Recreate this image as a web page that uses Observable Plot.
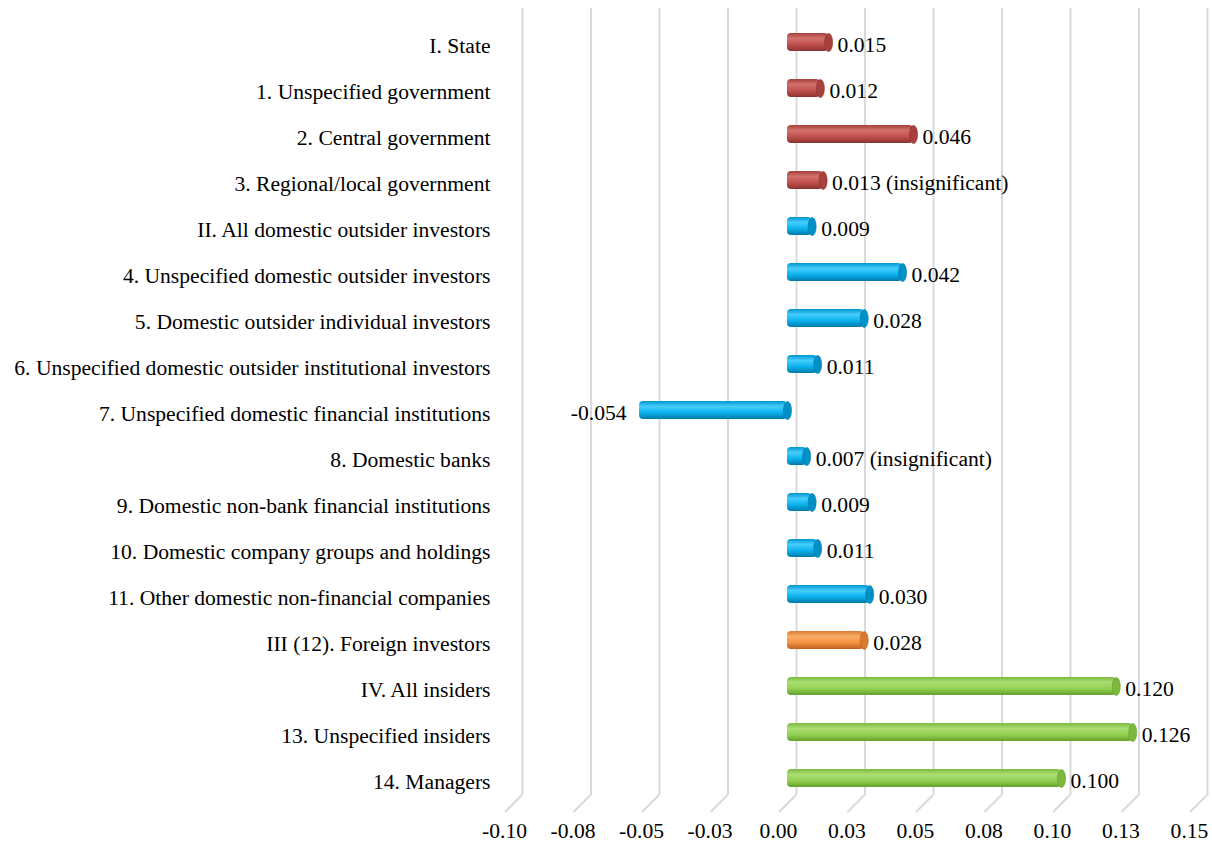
<!DOCTYPE html>
<html><head><meta charset="utf-8">
<script src="https://cdn.jsdelivr.net/npm/d3@7"></script>
<script src="https://cdn.jsdelivr.net/npm/@observablehq/plot@0.6"></script>
<style>body{margin:0;background:#fff}</style>
</head><body><div id="chart"></div>
<script>
const categories = [
  "I. State",
  "1. Unspecified government",
  "2. Central government",
  "3. Regional/local government",
  "II. All domestic outsider investors",
  "4. Unspecified domestic outsider investors",
  "5. Domestic outsider individual investors",
  "6. Unspecified domestic outsider institutional investors",
  "7. Unspecified domestic financial institutions",
  "8. Domestic banks",
  "9. Domestic non-bank financial institutions",
  "10. Domestic company groups and holdings",
  "11. Other domestic non-financial companies",
  "III (12). Foreign investors",
  "IV. All insiders",
  "13. Unspecified insiders",
  "14. Managers"
];
const values = [0.015, 0.012, 0.046, 0.013, 0.009, 0.042, 0.028, 0.011, -0.054, 0.007, 0.009, 0.011, 0.030, 0.028, 0.120, 0.126, 0.100];
const groups = ["state","state","state","state","domestic","domestic","domestic","domestic","domestic","domestic","domestic","domestic","domestic","foreign","insider","insider","insider"];
const notes = ["","",""," (insignificant)","","","","","",""," (insignificant)","","","","","",""];
notes[9] = " (insignificant)"; notes[10] = "";
const tickValues = [-0.1, -0.075, -0.05, -0.025, 0, 0.025, 0.05, 0.075, 0.1, 0.125, 0.15];
const tickLabels = ["-0.10","-0.08","-0.05","-0.03","0.00","0.03","0.05","0.08","0.10","0.13","0.15"];
const palette = {
  state:    {edge:"#a3403d", light:"#d2706b", base:"#c0504d", dark:"#8a3230", cap:"#a9403d"},
  domestic: {edge:"#0096cf", light:"#45cdfb", base:"#0ab2ef", dark:"#0079a8", cap:"#0090c8"},
  foreign:  {edge:"#d97a2e", light:"#faac69", base:"#f5913f", dark:"#bb6221", cap:"#d87a2c"},
  insider:  {edge:"#7cba3e", light:"#abdd74", base:"#92d050", dark:"#64a02c", cap:"#7bb83d"}
};

const data = categories.map((c, i) => ({
  category: c, value: values[i], group: groups[i],
  label: values[i].toFixed(3) + notes[i]
}));
const tickLabelMap = new Map(tickValues.map((t, i) => [t, tickLabels[i]]));

const backDx = 9, frontDx = -8, floorDepth = 17;
const font = "'Liberation Serif', 'Times New Roman', serif";
const fs = 21.6;

function defsMark() {
  const defs = d3.create("svg:defs");
  for (const [g, c] of Object.entries(palette)) {
    const lg = defs.append("linearGradient").attr("id", "g-" + g)
      .attr("x1", 0).attr("y1", 0).attr("x2", 0).attr("y2", 1);
    lg.append("stop").attr("offset", "0%").attr("stop-color", c.edge);
    lg.append("stop").attr("offset", "30%").attr("stop-color", c.light);
    lg.append("stop").attr("offset", "65%").attr("stop-color", c.base);
    lg.append("stop").attr("offset", "100%").attr("stop-color", c.dark);
  }
  return defs.node();
}

function floorMark(index, scales, vals, dimensions) {
  const g = d3.create("svg:g");
  const yb = dimensions.height - dimensions.marginBottom;
  for (const t of tickValues) {
    const x = scales.x(t);
    g.append("line")
      .attr("x1", x + backDx).attr("y1", yb - floorDepth)
      .attr("x2", x + frontDx).attr("y2", yb)
      .attr("stroke", "#d9d9d9").attr("stroke-width", 2);
  }
  return g.node();
}

const ellipseSymbol = {
  draw(ctx) {
    const rx = 4, ry = 9, k = 0.5523;
    ctx.moveTo(rx, 0);
    ctx.bezierCurveTo(rx, ry * k, rx * k, ry, 0, ry);
    ctx.bezierCurveTo(-rx * k, ry, -rx, ry * k, -rx, 0);
    ctx.bezierCurveTo(-rx, -ry * k, -rx * k, -ry, 0, -ry);
    ctx.bezierCurveTo(rx * k, -ry, rx, -ry * k, rx, 0);
    ctx.closePath();
  }
};

const barMarks = [];
for (const g of Object.keys(palette)) {
  const sub = data.filter(d => d.group === g);
  barMarks.push(Plot.barX(sub, {x1: 0, x2: "value", y: "category", fill: `url(#g-${g})`, rx: 4}));
  barMarks.push(Plot.dot(sub, {x: d => Math.max(d.value, 0), y: "category", symbol: ellipseSymbol,
    fill: palette[g].cap, stroke: palette[g].dark, strokeWidth: 0.6}));
}

const chart = Plot.plot({
  width: 1212,
  height: 847,
  marginLeft: 513,
  marginRight: 14,
  marginTop: 8,
  marginBottom: 35,
  style: {fontFamily: font, fontSize: fs + "px", color: "#000", background: "#fff"},
  x: {domain: [-0.1, 0.15]},
  y: {domain: categories, paddingInner: 0.61, paddingOuter: 0.5},
  marks: [
    defsMark,
    Plot.ruleX(tickValues, {stroke: "#d9d9d9", strokeWidth: 2, dx: backDx, insetBottom: floorDepth}),
    floorMark,
    ...barMarks,
    Plot.text(data.filter(d => d.value >= 0), {x: "value", y: "category", text: "label", textAnchor: "start", dx: 9, dy: 3, fontSize: fs}),
    Plot.text(data.filter(d => d.value < 0), {x: "value", y: "category", text: "label", textAnchor: "end", dx: -13, dy: 3, fontSize: fs}),
    Plot.axisY({tickSize: 0, tickPadding: 23, dy: 4, fontSize: fs, label: null}),
    Plot.axisX({ticks: tickValues, tickFormat: d => tickLabelMap.get(d), tickSize: 0, tickPadding: 10, dx: frontDx - 1, fontSize: fs, label: null})
  ]
});
document.getElementById("chart").appendChild(chart);
</script>
</body></html>
